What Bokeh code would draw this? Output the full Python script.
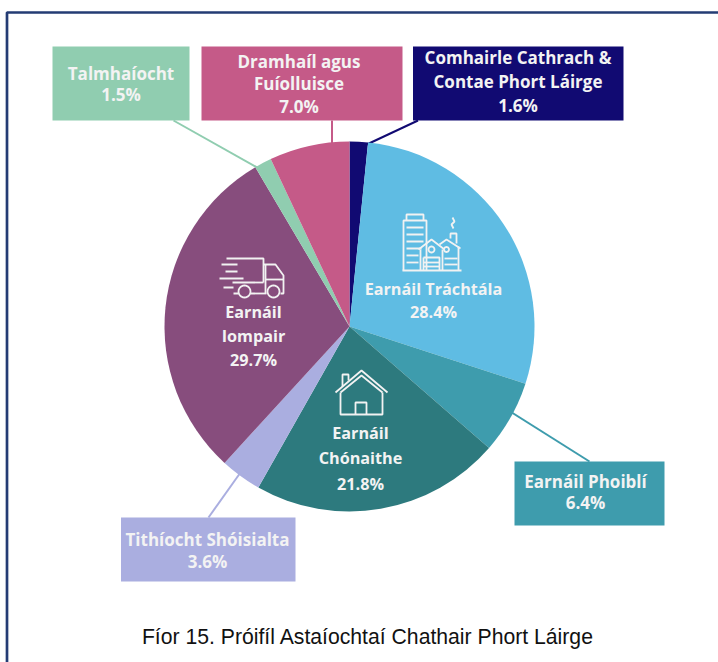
import numpy as np
from bokeh.plotting import figure
from bokeh.embed import file_html
from bokeh.resources import INLINE
from bokeh.core.properties import value

names = ["Comhairle Cathrach & Contae Phort Láirge", "Earnáil Tráchtála", "Earnáil Phoiblí", "Earnáil Chónaithe",
         "Tithíocht Shóisialta", "Earnáil Iompair", "Talmhaíocht", "Dramhaíl agus Fuíolluisce"]
shares = [1.6, 28.4, 6.4, 21.8, 3.6, 29.7, 1.5, 7.0]
colors = ["#110a72", "#5fbce3", "#3e9cad", "#2d7a7e", "#aaaee0", "#874d7d", "#90cdb0", "#c55a88"]

box_x0 = [52, 201, 412.5, 514, 120.5]
box_x1 = [189, 402, 623, 664, 295]
box_y0 = [46, 46, 46, 461, 517]
box_y1 = [120, 120, 120, 525, 581]
box_col = ["#90cdb0", "#c55a88", "#110a72", "#3e9cad", "#aaaee0"]
box_text = [["Talmhaíocht", "1.5%"], ["Dramhaíl agus", "Fuíolluisce", "7.0%"],
            ["Comhairle Cathrach &", "Contae Phort Láirge", "1.6%"], ["Earnáil Phoiblí", "6.4%"],
            ["Tithíocht Shóisialta", "3.6%"]]
box_text_x = [120.5, 298.5, 517.5, 585, 207]
box_line_y = [[73, 94], [61, 83, 106], [57, 81, 105], [481, 502], [539, 561]]

leader_x = [[173, 262], [331.5, 331.5], [417.5, 362], [589, 505], [208, 240]]
leader_y = [[120, 170], [120, 150], [120, 146], [461, 408], [517, 472]]

in_labels = ["Earnáil Tráchtála", "28.4%", "Earnáil", "Chónaithe", "21.8%", "Earnáil", "Iompair", "29.7%"]
in_x = [433, 433, 360, 360, 360, 253, 253, 253]
in_y = [288, 311, 432, 457, 483, 311, 335, 359]

caption = "Fíor 15. Próifíl Astaíochtaí Chathair Phort Láirge"

p = figure(width=718, height=662, x_range=(0, 718), y_range=(662, 0), output_backend="svg",
           toolbar_location=None, min_border=0, outline_line_color=None,
           background_fill_color="white", border_fill_color="white")
p.axis.visible = False
p.grid.visible = False

cx, cy, r = 349, 326, 185

# frame: only the left and top edges fall inside the picture
p.line(x=[6.5, 6.5, 718], y=[662, 12, 12], line_color="#243c74", line_width=2.7)
p.multi_line(leader_x, leader_y, line_color=box_col, line_width=2)

# pie, clockwise from twelve o'clock
frac = np.cumsum([0] + shares) / sum(shares) * 2 * np.pi
start = np.pi / 2 - frac[:-1]
end = np.pi / 2 - frac[1:]
p.wedge(x=cx, y=cy, radius=r, start_angle=start, end_angle=end, direction="clock", fill_color=colors, line_color=None)

p.quad(left=box_x0, right=box_x1, top=box_y0, bottom=box_y1, fill_color=box_col, line_color=None)

font = value("Open Sans")
for tx, lines, ys in zip(box_text_x, box_text, box_line_y):
    p.text(x=[tx] * len(lines), y=ys, text=lines, text_color="#f3f3f3", text_font=font,
           text_font_style="bold", text_font_size="17px", text_align="center", text_baseline="middle")
p.text(x=in_x, y=in_y, text=in_labels, text_color="#f3f3f3", text_font=font, text_font_style="bold",
       text_font_size="16.2px", text_align="center", text_baseline="middle")
p.text(x=[367.5], y=[636], text=[caption], text_color="#111111", text_font=value("Liberation Sans"),
       text_font_size="21.2px", text_align="center", text_baseline="middle")

def ring(x0, y0, rad):
    t = np.linspace(0, 2 * np.pi, 25)
    return (list(x0 + rad * np.cos(t)), list(y0 + rad * np.sin(t)))

def icon(segs, width=1.8, color="#f2f2f2"):
    p.multi_line([list(s[0]) for s in segs], [list(s[1]) for s in segs], line_color=color, line_width=width)

# buildings icon
icon([
    ([403, 403, 426, 426], [270, 220, 220, 270]),
    ([406, 406, 423, 423], [220, 214, 214, 220]),
    ([406, 423], [227, 227]), ([406, 423], [234, 234]), ([406, 423], [241, 241]),
    ([406, 421], [248, 248]), ([406, 418], [255, 255]), ([406, 418], [262, 262]),
    ([402, 461], [270, 270]),
    ([418, 431, 444], [249, 239, 249]),
    ([420, 420], [249, 270]), ([442, 442], [249, 270]),
    ([439, 446, 460], [244, 239, 248]), ([458, 458], [246, 270]),
    ([450, 450, 456, 456], [238, 233, 233, 243]),
    ([423, 439, 439], [257, 257, 270]), ([423, 423], [257, 270]), ([423, 439], [262, 262]), ([423, 439], [266, 266]),
    ([444, 457], [258, 258]), ([444, 457], [264, 264]),
    ([453, 451, 454, 452], [228, 224, 221, 217]),
    ring(431, 249, 3), ring(446, 249, 2.5),
])
# truck icon
icon([
    ([226, 263, 263], [258, 258, 282]), ([232, 263], [282, 282]),
    ([221, 237], [264, 264]), ([225, 237], [271, 271]), ([219, 243], [278, 278]),
    ([223, 233], [287, 287]),
    ([263, 275, 283, 283, 280], [264, 264, 275, 293, 293]),
    ([265, 283], [279, 279]), ([265, 265], [264, 293]),
    ([250, 266], [293, 293]), ([238, 233], [293, 293]),
    ring(244, 291, 6), ring(273, 291, 6),
])
# house icon
icon([
    ([335, 361, 387], [392, 370, 392]),
    ([340, 361, 382], [392, 375, 392]),
    ([340, 340, 382, 382], [392, 414, 414, 392]),
    ([355, 355, 366, 366], [414, 402, 402, 414]),
    ([342, 342, 348, 348], [386, 374, 374, 380]),
])

html = file_html(p, INLINE).replace("<head>", "<head><style>html,body{margin:0!important;padding:0}</style>", 1)
open("out.html", "w").write(html)
